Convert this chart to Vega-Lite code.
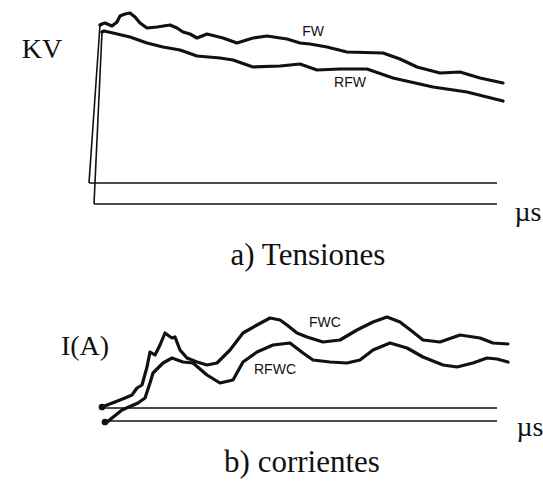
{
  "$schema": "https://vega.github.io/schema/vega-lite/v6.json",
  "padding": 0,
  "spacing": 0,
  "background": "white",
  "config": {"view": {"stroke": null}},
  "datasets": {
    "axesA": [
      {"x": 0, "x2": 408, "y": 21},
      {"x": 5, "x2": 408, "y": 0}
    ],
    "riseA": [
      {"series": "FW", "x": 0, "y": 21},
      {"series": "FW", "x": 11, "y": 179},
      {"series": "RFW", "x": 5, "y": 0},
      {"series": "RFW", "x": 13, "y": 172}
    ],
    "traceA": [
      {"series": "FW", "x": 11, "y": 179},
      {"series": "FW", "x": 13, "y": 180},
      {"series": "FW", "x": 16, "y": 181},
      {"series": "FW", "x": 23, "y": 178},
      {"series": "FW", "x": 28, "y": 182},
      {"series": "FW", "x": 31, "y": 188},
      {"series": "FW", "x": 36, "y": 190},
      {"series": "FW", "x": 41, "y": 191},
      {"series": "FW", "x": 46, "y": 187},
      {"series": "FW", "x": 51, "y": 181},
      {"series": "FW", "x": 58, "y": 176},
      {"series": "FW", "x": 68, "y": 177},
      {"series": "FW", "x": 81, "y": 179},
      {"series": "FW", "x": 88, "y": 176},
      {"series": "FW", "x": 94, "y": 172},
      {"series": "FW", "x": 101, "y": 170},
      {"series": "FW", "x": 108, "y": 166},
      {"series": "FW", "x": 118, "y": 170},
      {"series": "FW", "x": 134, "y": 166},
      {"series": "FW", "x": 148, "y": 161},
      {"series": "FW", "x": 164, "y": 166},
      {"series": "FW", "x": 178, "y": 168},
      {"series": "FW", "x": 198, "y": 165},
      {"series": "FW", "x": 211, "y": 161},
      {"series": "FW", "x": 221, "y": 160},
      {"series": "FW", "x": 238, "y": 157},
      {"series": "FW", "x": 258, "y": 152},
      {"series": "FW", "x": 294, "y": 151},
      {"series": "FW", "x": 311, "y": 145},
      {"series": "FW", "x": 328, "y": 137},
      {"series": "FW", "x": 351, "y": 131},
      {"series": "FW", "x": 371, "y": 132},
      {"series": "FW", "x": 391, "y": 126},
      {"series": "FW", "x": 414, "y": 121},
      {"series": "RFW", "x": 13, "y": 172},
      {"series": "RFW", "x": 15, "y": 173},
      {"series": "RFW", "x": 24, "y": 171},
      {"series": "RFW", "x": 41, "y": 167},
      {"series": "RFW", "x": 58, "y": 161},
      {"series": "RFW", "x": 74, "y": 157},
      {"series": "RFW", "x": 91, "y": 154},
      {"series": "RFW", "x": 108, "y": 148},
      {"series": "RFW", "x": 131, "y": 146},
      {"series": "RFW", "x": 144, "y": 144},
      {"series": "RFW", "x": 164, "y": 137},
      {"series": "RFW", "x": 191, "y": 138},
      {"series": "RFW", "x": 211, "y": 140},
      {"series": "RFW", "x": 228, "y": 134},
      {"series": "RFW", "x": 251, "y": 135},
      {"series": "RFW", "x": 278, "y": 135},
      {"series": "RFW", "x": 304, "y": 126},
      {"series": "RFW", "x": 344, "y": 117},
      {"series": "RFW", "x": 378, "y": 112},
      {"series": "RFW", "x": 414, "y": 103}
    ],
    "sansA": [
      {"x": 224, "y": 172, "label": "FW"},
      {"x": 261, "y": 121, "label": "RFW"}
    ],
    "serifA": [
      {"x": -47, "y": 154, "label": "KV"},
      {"x": 439, "y": -9, "label": "µs"}
    ],
    "titleA": [
      {"x": 219, "y": -52, "label": "a) Tensiones"}
    ],
    "axesB": [
      {"x": 13, "x2": 408, "y": 13},
      {"x": 15, "x2": 408, "y": 0}
    ],
    "startB": [
      {"x": 13, "y": 14},
      {"x": 16, "y": -1}
    ],
    "traceB": [
      {"series": "FWC", "x": 13, "y": 14},
      {"series": "FWC", "x": 26, "y": 19},
      {"series": "FWC", "x": 36, "y": 23},
      {"series": "FWC", "x": 43, "y": 26},
      {"series": "FWC", "x": 48, "y": 33},
      {"series": "FWC", "x": 53, "y": 36},
      {"series": "FWC", "x": 58, "y": 54},
      {"series": "FWC", "x": 61, "y": 69},
      {"series": "FWC", "x": 66, "y": 66},
      {"series": "FWC", "x": 71, "y": 76},
      {"series": "FWC", "x": 76, "y": 88},
      {"series": "FWC", "x": 80, "y": 85},
      {"series": "FWC", "x": 83, "y": 83},
      {"series": "FWC", "x": 86, "y": 84},
      {"series": "FWC", "x": 91, "y": 71},
      {"series": "FWC", "x": 98, "y": 63},
      {"series": "FWC", "x": 108, "y": 59},
      {"series": "FWC", "x": 118, "y": 56},
      {"series": "FWC", "x": 128, "y": 58},
      {"series": "FWC", "x": 141, "y": 71},
      {"series": "FWC", "x": 154, "y": 88},
      {"series": "FWC", "x": 168, "y": 96},
      {"series": "FWC", "x": 181, "y": 103},
      {"series": "FWC", "x": 191, "y": 101},
      {"series": "FWC", "x": 198, "y": 96},
      {"series": "FWC", "x": 208, "y": 88},
      {"series": "FWC", "x": 218, "y": 84},
      {"series": "FWC", "x": 234, "y": 79},
      {"series": "FWC", "x": 251, "y": 81},
      {"series": "FWC", "x": 268, "y": 91},
      {"series": "FWC", "x": 284, "y": 99},
      {"series": "FWC", "x": 298, "y": 104},
      {"series": "FWC", "x": 311, "y": 99},
      {"series": "FWC", "x": 324, "y": 89},
      {"series": "FWC", "x": 334, "y": 81},
      {"series": "FWC", "x": 351, "y": 79},
      {"series": "FWC", "x": 371, "y": 86},
      {"series": "FWC", "x": 391, "y": 83},
      {"series": "FWC", "x": 404, "y": 78},
      {"series": "FWC", "x": 419, "y": 77},
      {"series": "RFWC", "x": 17, "y": -2},
      {"series": "RFWC", "x": 23, "y": 3},
      {"series": "RFWC", "x": 33, "y": 11},
      {"series": "RFWC", "x": 49, "y": 18},
      {"series": "RFWC", "x": 56, "y": 23},
      {"series": "RFWC", "x": 61, "y": 38},
      {"series": "RFWC", "x": 64, "y": 48},
      {"series": "RFWC", "x": 69, "y": 53},
      {"series": "RFWC", "x": 74, "y": 58},
      {"series": "RFWC", "x": 83, "y": 63},
      {"series": "RFWC", "x": 94, "y": 59},
      {"series": "RFWC", "x": 104, "y": 58},
      {"series": "RFWC", "x": 118, "y": 46},
      {"series": "RFWC", "x": 131, "y": 38},
      {"series": "RFWC", "x": 144, "y": 41},
      {"series": "RFWC", "x": 154, "y": 59},
      {"series": "RFWC", "x": 168, "y": 69},
      {"series": "RFWC", "x": 184, "y": 76},
      {"series": "RFWC", "x": 201, "y": 78},
      {"series": "RFWC", "x": 214, "y": 68},
      {"series": "RFWC", "x": 224, "y": 61},
      {"series": "RFWC", "x": 241, "y": 59},
      {"series": "RFWC", "x": 258, "y": 58},
      {"series": "RFWC", "x": 271, "y": 61},
      {"series": "RFWC", "x": 284, "y": 71},
      {"series": "RFWC", "x": 301, "y": 78},
      {"series": "RFWC", "x": 318, "y": 73},
      {"series": "RFWC", "x": 334, "y": 64},
      {"series": "RFWC", "x": 354, "y": 56},
      {"series": "RFWC", "x": 368, "y": 54},
      {"series": "RFWC", "x": 384, "y": 58},
      {"series": "RFWC", "x": 398, "y": 63},
      {"series": "RFWC", "x": 408, "y": 62},
      {"series": "RFWC", "x": 419, "y": 59}
    ],
    "sansB": [
      {"x": 236, "y": 98, "label": "FWC"},
      {"x": 186, "y": 51, "label": "RFWC"}
    ],
    "serifB": [
      {"x": -4, "y": 74, "label": "I(A)"},
      {"x": 441, "y": -7, "label": "µs"}
    ],
    "titleB": [
      {"x": 213, "y": -42, "label": "b) corrientes"}
    ]
  },
  "vconcat": [
    {
      "width": 543,
      "height": 280,
      "encoding": {
        "x": {"field": "x", "type": "quantitative", "axis": null, "scale": {"domain": [-89, 454], "nice": false, "zero": false}},
        "y": {"field": "y", "type": "quantitative", "axis": null, "scale": {"domain": [-76, 204], "nice": false, "zero": false}}
      },
      "layer": [
        {"data": {"name": "axesA"}, "mark": {"type": "rule", "color": "#111", "strokeWidth": 1.5}, "encoding": {"x2": {"field": "x2"}}},
        {"data": {"name": "riseA"}, "mark": {"type": "line", "color": "#111", "strokeWidth": 1.6}, "encoding": {"detail": {"field": "series"}}},
        {"data": {"name": "traceA"}, "mark": {"type": "line", "color": "#111", "strokeWidth": 3.2, "strokeJoin": "round", "strokeCap": "round"}, "encoding": {"detail": {"field": "series"}}},
        {"data": {"name": "sansA"}, "mark": {"type": "text", "font": "Liberation Sans", "fontSize": 14, "color": "#111", "baseline": "middle", "align": "center"}, "encoding": {"text": {"field": "label"}}},
        {"data": {"name": "serifA"}, "mark": {"type": "text", "font": "Liberation Serif", "fontSize": 28, "color": "#111", "baseline": "middle", "align": "center"}, "encoding": {"text": {"field": "label"}}},
        {"data": {"name": "titleA"}, "mark": {"type": "text", "font": "Liberation Serif", "fontSize": 31, "color": "#111", "baseline": "middle", "align": "center"}, "encoding": {"text": {"field": "label"}}}
      ]
    },
    {
      "width": 543,
      "height": 202,
      "encoding": {
        "x": {"field": "x", "type": "quantitative", "axis": null, "scale": {"domain": [-89, 454], "nice": false, "zero": false}},
        "y": {"field": "y", "type": "quantitative", "axis": null, "scale": {"domain": [-61, 141], "nice": false, "zero": false}}
      },
      "layer": [
        {"data": {"name": "axesB"}, "mark": {"type": "rule", "color": "#111", "strokeWidth": 1.5}, "encoding": {"x2": {"field": "x2"}}},
        {"data": {"name": "traceB"}, "mark": {"type": "line", "color": "#111", "strokeWidth": 3.2, "strokeJoin": "round", "strokeCap": "round"}, "encoding": {"detail": {"field": "series"}}},
        {"data": {"name": "startB"}, "mark": {"type": "circle", "color": "#111", "opacity": 1, "size": 45}},
        {"data": {"name": "sansB"}, "mark": {"type": "text", "font": "Liberation Sans", "fontSize": 14, "color": "#111", "baseline": "middle", "align": "center"}, "encoding": {"text": {"field": "label"}}},
        {"data": {"name": "serifB"}, "mark": {"type": "text", "font": "Liberation Serif", "fontSize": 28, "color": "#111", "baseline": "middle", "align": "center"}, "encoding": {"text": {"field": "label"}}},
        {"data": {"name": "titleB"}, "mark": {"type": "text", "font": "Liberation Serif", "fontSize": 31, "color": "#111", "baseline": "middle", "align": "center"}, "encoding": {"text": {"field": "label"}}}
      ]
    }
  ]
}
